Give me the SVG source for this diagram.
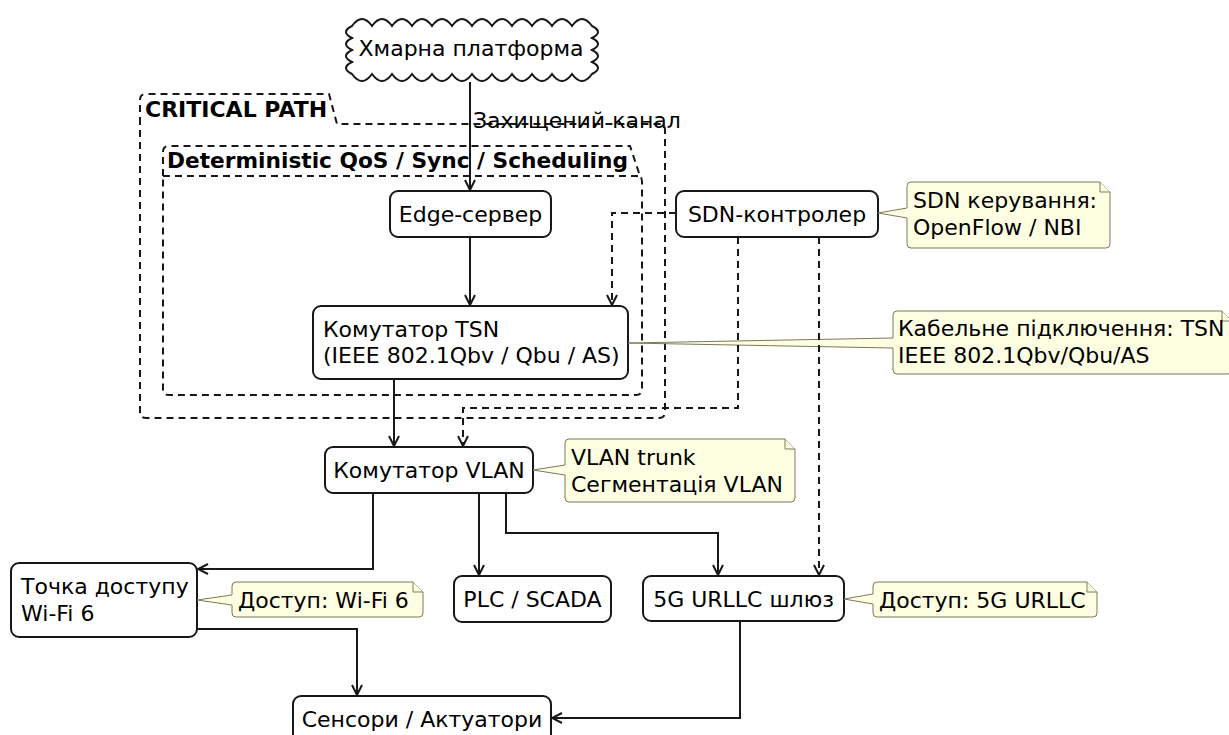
<svg xmlns="http://www.w3.org/2000/svg" width="1229" height="735" viewBox="0 0 1229 735">
<defs>
<marker id="arr" viewBox="0 0 12 12" refX="11" refY="6" markerWidth="12" markerHeight="12" markerUnits="userSpaceOnUse" orient="auto">
<path d="M1,1 L11,6 L1,11" fill="none" stroke="#181818" stroke-width="2"/>
</marker>
</defs>
<style>
text{font-family:"DejaVu Sans","Liberation Sans",sans-serif;font-size:22px;fill:#000}
.b{font-weight:bold}
.node{fill:#fff;stroke:#181818;stroke-width:2}
.pkg{fill:none;stroke:#181818;stroke-width:2;stroke-dasharray:7,5}
.note{fill:#fefee2;stroke:#7a7a5a;stroke-width:1}
.c{fill:none;stroke:#181818;stroke-width:2}
.d{fill:none;stroke:#181818;stroke-width:2;stroke-dasharray:7,5}
.m{text-anchor:middle}
</style>
<rect width="1229" height="735" fill="#fff"/>

<g id="pkg-critical">
<path class="pkg" d="M140,124 V100 Q140,94 146,94 H329 L337,124 H659 Q665,124 665,130 V412 Q665,418 659,418 H146 Q140,418 140,412 Z"/>
<text class="b" x="145" y="117" style="font-size:22px">CRITICAL PATH</text>
</g>
<g id="pkg-qos">
<path class="pkg" d="M163,176 V152 Q163,146 169,146 H630 L640,176 Q642,178 642,182 V389 Q642,395 636,395 H169 Q163,395 163,389 Z M163,176 H640"/>
<text class="b" x="167" y="168" style="font-size:21.7px">Deterministic QoS / Sync / Scheduling</text>
</g>

<g id="cloud">
<path class="node" d="M352,26 q10,-14 20,0 q10,-14 20,0 q10,-14 20,0 q10,-14 20,0 q10,-14 20,0 q10,-14 20,0 q10,-14 20,0 q10,-14 20,0 q10,-14 20,0 q10,-14 20,0 q10,-14 20,0 q10,-14 20,0 q12,6 0,12 q12,6 0,12 q12,6 0,12 q12,6 0,12 q-10,14 -20,0 q-10,14 -20,0 q-10,14 -20,0 q-10,14 -20,0 q-10,14 -20,0 q-10,14 -20,0 q-10,14 -20,0 q-10,14 -20,0 q-10,14 -20,0 q-10,14 -20,0 q-10,14 -20,0 q-10,14 -20,0 q-12,-6 0,-12 q-12,-6 0,-12 q-12,-6 0,-12 q-12,-6 0,-12 Z"/>
<text class="m" x="471" y="56">Хмарна платформа</text>
</g>

<g id="edge-server">
<rect class="node" x="390" y="191" width="161" height="46" rx="8"/>
<text class="m" x="470.5" y="222">Edge-сервер</text>
</g>
<g id="tsn-switch">
<rect class="node" x="313" y="306" width="315" height="73" rx="8"/>
<text x="323" y="337">Комутатор TSN</text>
<text x="323" y="363">(IEEE 802.1Qbv / Qbu / AS)</text>
</g>
<g id="sdn-controller">
<rect class="node" x="676" y="191" width="202" height="46" rx="8"/>
<text class="m" x="777" y="222">SDN-контролер</text>
</g>
<g id="vlan-switch">
<rect class="node" x="325" y="447" width="208" height="46" rx="8"/>
<text class="m" x="429" y="478">Комутатор VLAN</text>
</g>
<g id="wifi-ap">
<rect class="node" x="11" y="563" width="186" height="74" rx="8"/>
<text x="21" y="594">Точка доступу</text>
<text x="21" y="621">Wi-Fi 6</text>
</g>
<g id="plc-scada">
<rect class="node" x="454" y="576" width="157" height="46" rx="8"/>
<text class="m" x="532.5" y="607">PLC / SCADA</text>
</g>
<g id="gw-5g">
<rect class="node" x="643" y="576" width="201" height="45" rx="8"/>
<text class="m" x="743.5" y="607">5G URLLC шлюз</text>
</g>
<g id="sensors">
<rect class="node" x="293" y="696" width="258" height="46" rx="8"/>
<text class="m" x="422" y="727">Сенсори / Актуатори</text>
</g>

<g id="note-sdn">
<path class="note" d="M911,182 H1100 L1110,192 V244 Q1110,248 1106,248 H911 Q907,248 907,244 V218 L878,213 L907,208 V186 Q907,182 911,182 Z"/>
<path class="note" d="M1100,182 V192 H1110"/>
<text x="913" y="208">SDN керування:</text>
<text x="913" y="235">OpenFlow / NBI</text>
</g>
<g id="note-tsn">
<path class="note" d="M897,311 H1222 L1232,321 V370 Q1232,374 1228,374 H897 Q893,374 893,370 V348 L628,343 L893,338 V315 Q893,311 897,311 Z"/>
<path class="note" d="M1222,311 V321 H1232"/>
<text x="898" y="336">Кабельне підключення: TSN</text>
<text x="898" y="363">IEEE 802.1Qbv/Qbu/AS</text>
</g>
<g id="note-vlan">
<path class="note" d="M569,439 H785 L795,449 V498 Q795,502 791,502 H569 Q565,502 565,498 V475 L533,470 L565,465 V443 Q565,439 569,439 Z"/>
<path class="note" d="M785,439 V449 H795"/>
<text x="571" y="465">VLAN trunk</text>
<text x="571" y="492">Сегментація VLAN</text>
</g>
<g id="note-wifi">
<path class="note" d="M236,582 H413 L423,592 V613 Q423,617 419,617 H236 Q232,617 232,613 V605 L197,600 L232,595 V586 Q232,582 236,582 Z"/>
<path class="note" d="M413,582 V592 H423"/>
<text x="238" y="608">Доступ: Wi-Fi 6</text>
</g>
<g id="note-5g">
<path class="note" d="M877,582 H1087 L1097,592 V613 Q1097,617 1093,617 H877 Q873,617 873,613 V604 L844,599 L873,594 V586 Q873,582 877,582 Z"/>
<path class="note" d="M1087,582 V592 H1097"/>
<text x="879" y="608">Доступ: 5G URLLC</text>
</g>

<g id="connectors">
<path class="c" d="M470,82 V190" marker-end="url(#arr)"/>
<text x="473" y="128">Захищений канал</text>
<path class="c" d="M470,237 V305" marker-end="url(#arr)"/>
<path class="d" d="M676,213 H612 V305" marker-end="url(#arr)"/>
<path class="d" d="M738,237 V408 H463 V446" marker-end="url(#arr)"/>
<path class="d" d="M819,237 V575" marker-end="url(#arr)"/>
<path class="c" d="M394,379 V446" marker-end="url(#arr)"/>
<path class="c" d="M373,493 V569 H198" marker-end="url(#arr)"/>
<path class="c" d="M479,493 V575" marker-end="url(#arr)"/>
<path class="c" d="M506,493 V533 H718 V575" marker-end="url(#arr)"/>
<path class="c" d="M197,629 H357 V695" marker-end="url(#arr)"/>
<path class="c" d="M740,621 V718 H552" marker-end="url(#arr)"/>
</g>
</svg>
